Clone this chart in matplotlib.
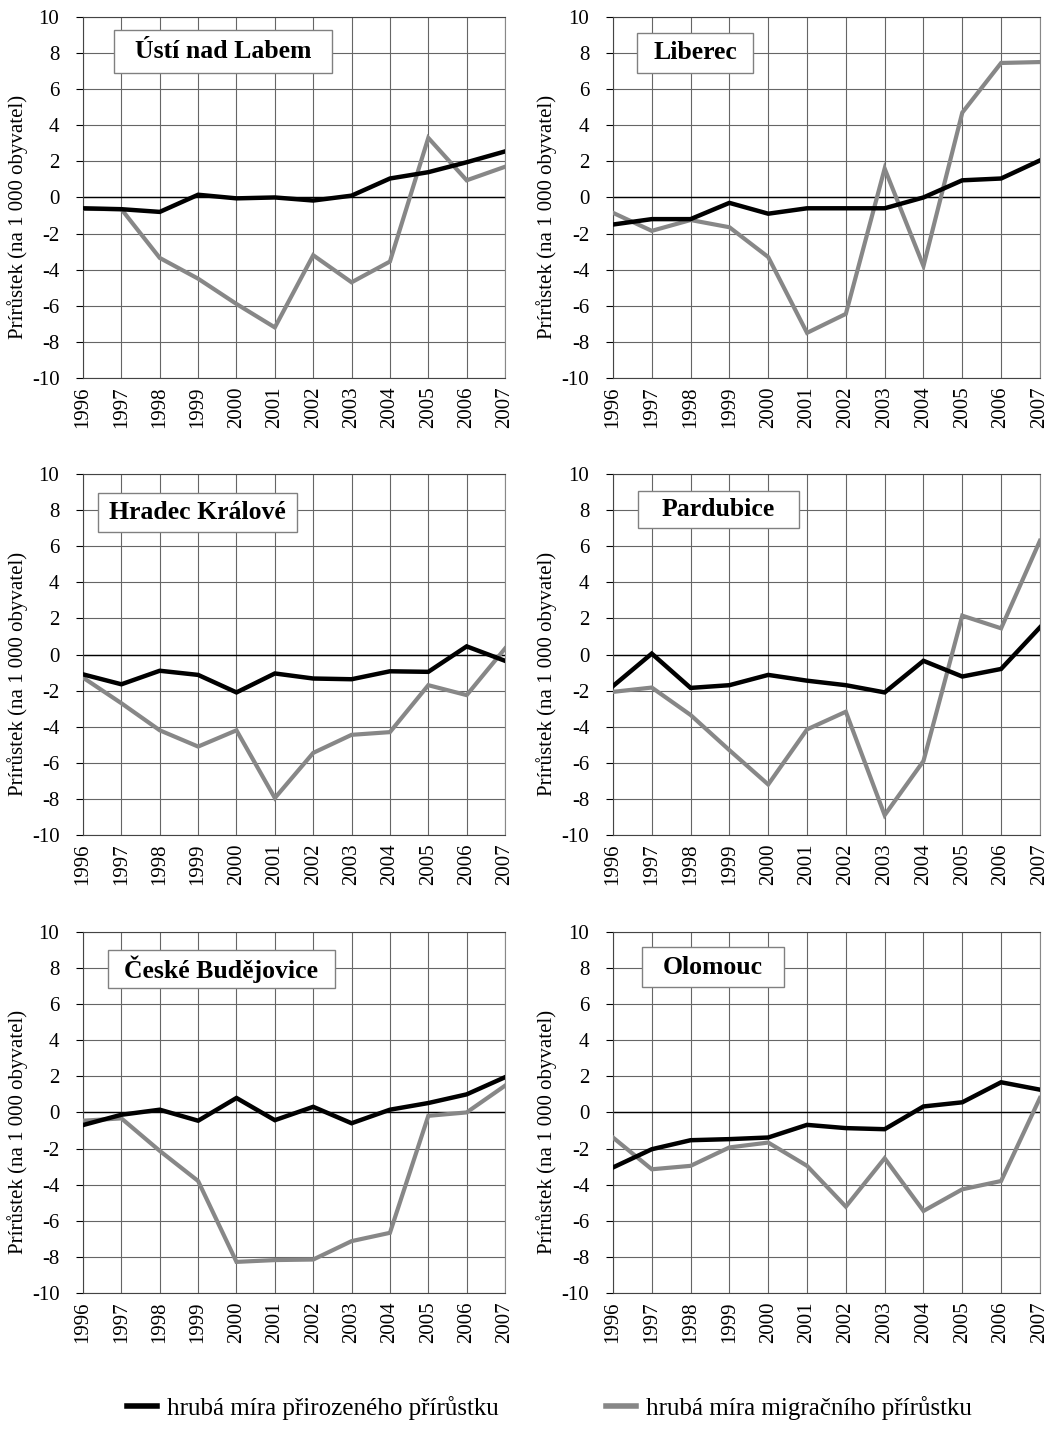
import numpy as np
import matplotlib.pyplot as plt
from matplotlib.lines import Line2D
from matplotlib.patches import Rectangle

plt.rcParams['font.family'] = ['Liberation Serif', 'DejaVu Serif']

roky = np.arange(1996, 2008)

mesta = ["Ústí nad Labem", "Liberec", "Hradec Králové",
         "Pardubice", "České Budějovice", "Olomouc"]

# hrubá míra přirozeného přírůstku
prirozeny_usti = [-0.6, -0.65, -0.8, 0.15, -0.05, 0.0, -0.17, 0.1, 1.05, 1.4, 1.95, 2.55]
prirozeny_liberec = [-1.5, -1.2, -1.2, -0.3, -0.9, -0.6, -0.6, -0.6, 0.0, 0.95, 1.05, 2.05]
prirozeny_hradec = [-1.1, -1.65, -0.9, -1.13, -2.1, -1.05, -1.33, -1.37, -0.93, -0.96, 0.45, -0.35]
prirozeny_pardubice = [-1.75, 0.05, -1.85, -1.7, -1.13, -1.45, -1.7, -2.1, -0.35, -1.22, -0.8, 1.5]
prirozeny_cb = [-0.7, -0.13, 0.15, -0.46, 0.8, -0.43, 0.31, -0.6, 0.15, 0.52, 1.0, 1.95]
prirozeny_olomouc = [-3.05, -2.04, -1.54, -1.48, -1.39, -0.69, -0.87, -0.93, 0.33, 0.56, 1.67, 1.26]

# hrubá míra migračního přírůstku
migracni_usti = [-0.63, -0.65, -3.35, -4.5, -5.9, -7.2, -3.2, -4.7, -3.55, 3.3, 0.95, 1.7]
migracni_liberec = [-0.85, -1.85, -1.25, -1.65, -3.3, -7.5, -6.45, 1.6, -3.8, 4.7, 7.45, 7.5]
migracni_hradec = [-1.28, -2.7, -4.2, -5.1, -4.2, -7.95, -5.45, -4.45, -4.3, -1.7, -2.25, 0.33]
migracni_pardubice = [-2.07, -1.83, -3.35, -5.3, -7.2, -4.15, -3.17, -8.9, -5.9, 2.15, 1.45, 6.3]
migracni_cb = [-0.46, -0.33, -2.13, -3.8, -8.28, -8.18, -8.15, -7.13, -6.67, -0.19, 0.0, 1.48]
migracni_olomouc = [-1.39, -3.15, -2.96, -1.94, -1.67, -2.96, -5.22, -2.54, -5.46, -4.26, -3.8, 0.8]

prirozeny = [prirozeny_usti, prirozeny_liberec, prirozeny_hradec,
             prirozeny_pardubice, prirozeny_cb, prirozeny_olomouc]
migracni = [migracni_usti, migracni_liberec, migracni_hradec,
            migracni_pardubice, migracni_cb, migracni_olomouc]

# ramecek s nazvem mesta (x0, x1, y0, y1) v souradnicich os
ramecky = [(0.0735, 0.590, 0.845, 0.964),
           (0.0562, 0.328, 0.845, 0.956),
           (0.0355, 0.507, 0.839, 0.947),
           (0.0585, 0.4356, 0.850, 0.953),
           (0.0592, 0.597, 0.844, 0.950),
           (0.0679, 0.4005, 0.847, 0.958)]

fig = plt.figure(figsize=(10.55, 14.35), dpi=100)

lefts = [0.0787, 0.581]
bottoms = [0.7366, 0.4181, 0.099]
sirka = [0.400, 0.4047]
vyska = 0.2516

for i in range(6):
    r = i // 2
    c = i % 2
    ax = fig.add_axes([lefts[c], bottoms[r], sirka[c], vyska])
    ax.set_xlim(1996, 2007)
    ax.set_ylim(-10, 10)
    ax.set_xticks(roky)
    ax.set_xticklabels([str(r_) for r_ in roky], rotation=90, fontsize=15)
    ax.set_yticks(np.arange(-10, 11, 2))
    ax.set_yticklabels([str(v) for v in range(-10, 11, 2)], fontsize=15)
    ax.grid(True, color="#666666", linewidth=0.8)
    ax.axhline(0, color="black", linewidth=1.0, zorder=2)
    ax.tick_params(axis="x", length=0, pad=6)
    ax.tick_params(axis="y", length=5, width=0.8, pad=12)
    for s in ax.spines.values():
        s.set_color("#444444")
        s.set_linewidth(0.8)
    ax.spines["right"].set_color("#888888")

    ax.plot(roky, prirozeny[i], color="black", linewidth=3.2, zorder=4,
            solid_joinstyle="miter")
    ax.plot(roky, migracni[i], color="#878787", linewidth=3.0, zorder=3,
            solid_joinstyle="miter")

    ax.set_ylabel("Prírůstek (na 1 000 obyvatel)", fontsize=15)
    ax.yaxis.set_label_coords(-0.13, 0.445)

    x0, x1, y0, y1 = ramecky[i]
    ax.add_patch(Rectangle((x0, y0), x1 - x0, y1 - y0, transform=ax.transAxes,
                           facecolor="white", edgecolor="#808080",
                           linewidth=1.0, zorder=5))
    ax.text((x0 + x1) / 2, (y0 + y1) / 2, mesta[i], transform=ax.transAxes,
            ha="center", va="center", fontsize=18.5, fontweight="bold", zorder=6)

handles = [Line2D([], [], color="black", linewidth=4),
           Line2D([], [], color="#878787", linewidth=4)]
labels = ["hrubá míra přirozeného přírůstku", "hrubá míra migračního přírůstku"]
fig.legend(handles, labels, loc="center", bbox_to_anchor=(0.521, 0.019), ncol=2,
           frameon=False, fontsize=18, handlelength=1.2, columnspacing=4.3,
           handletextpad=0.4)

fig.savefig("out.png", dpi=100)
